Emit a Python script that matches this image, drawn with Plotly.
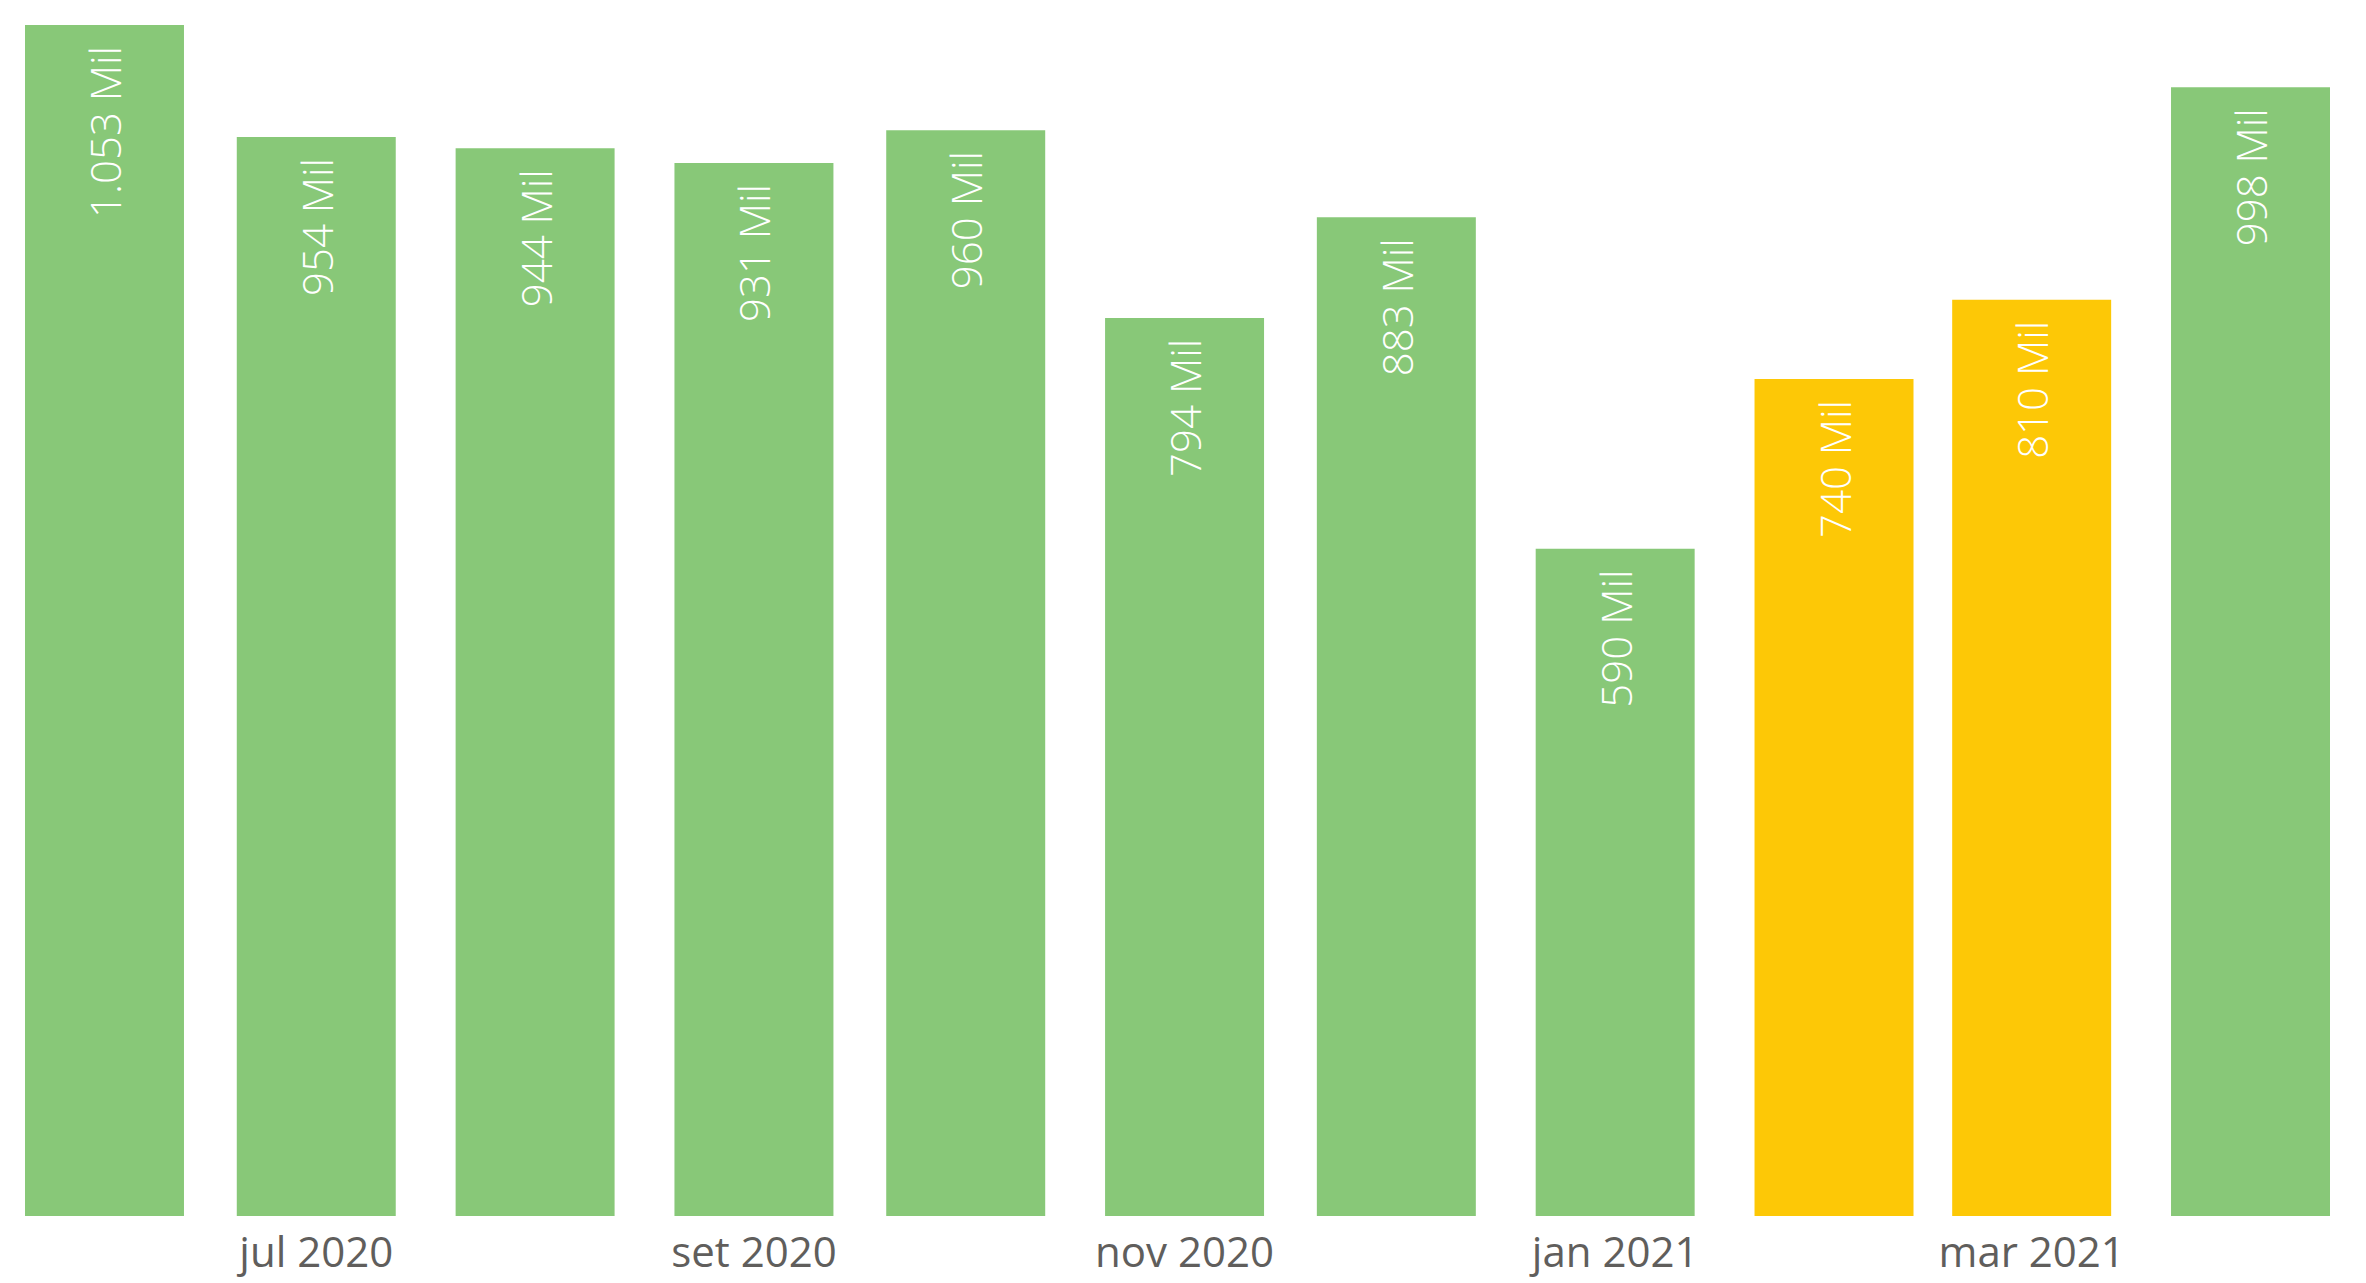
import plotly.graph_objects as go
import pandas as pd

months = ["2020-06-01", "2020-07-01", "2020-08-01", "2020-09-01", "2020-10-01", "2020-11-01",
          "2020-12-01", "2021-01-01", "2021-02-01", "2021-03-01", "2021-04-01"]
values = [1053, 954, 944, 931, 960, 794, 883, 590, 740, 810, 998]  # thousands
highlight_months = ["2021-02-01", "2021-03-01"]

tick_vals = ["2020-07-01", "2020-09-01", "2020-11-01", "2021-01-01", "2021-03-01"]
tick_text = ["jul 2020", "set 2020", "nov 2020", "jan 2021", "mar 2021"]

GREEN = "#88C878"
YELLOW = "#FDC806"
colors = [YELLOW if m in highlight_months else GREEN for m in months]
labels = [f"{v:,}".replace(",", ".") + " Mil\u00a0\u2006" for v in values]

bar_days = 22.52
day_ms = 86400000
x = pd.to_datetime(months)
half = pd.Timedelta(days=bar_days / 2)
x_range = [(x.min() - half).isoformat(), (x.max() + half).isoformat()]

fig = go.Figure(go.Bar(
    x=x, y=values,
    width=bar_days * day_ms,
    marker=dict(color=colors, line=dict(width=0)),
    text=labels,
    textposition="inside",
    insidetextanchor="end",
    textangle=-90,
    insidetextfont=dict(color="white", size=42, family="Open Sans", weight=300),
    hoverinfo="skip",
))

fig.update_layout(
    width=2366, height=1283,
    margin=dict(l=17, r=44, t=17, b=73),
    paper_bgcolor="white", plot_bgcolor="white",
    showlegend=False,
    xaxis=dict(type="date", range=x_range, tickvals=tick_vals, ticktext=tick_text,
               showgrid=False, zeroline=False, showline=False, ticks="",
               ticklabelstandoff=8,
               tickfont=dict(size=42, color="#605E5C", family="Open Sans")),
    yaxis=dict(range=[0, max(values)], visible=False, showgrid=False, zeroline=False),
    uniformtext=dict(minsize=8, mode="show"),
)

fig.write_html("out.html")
